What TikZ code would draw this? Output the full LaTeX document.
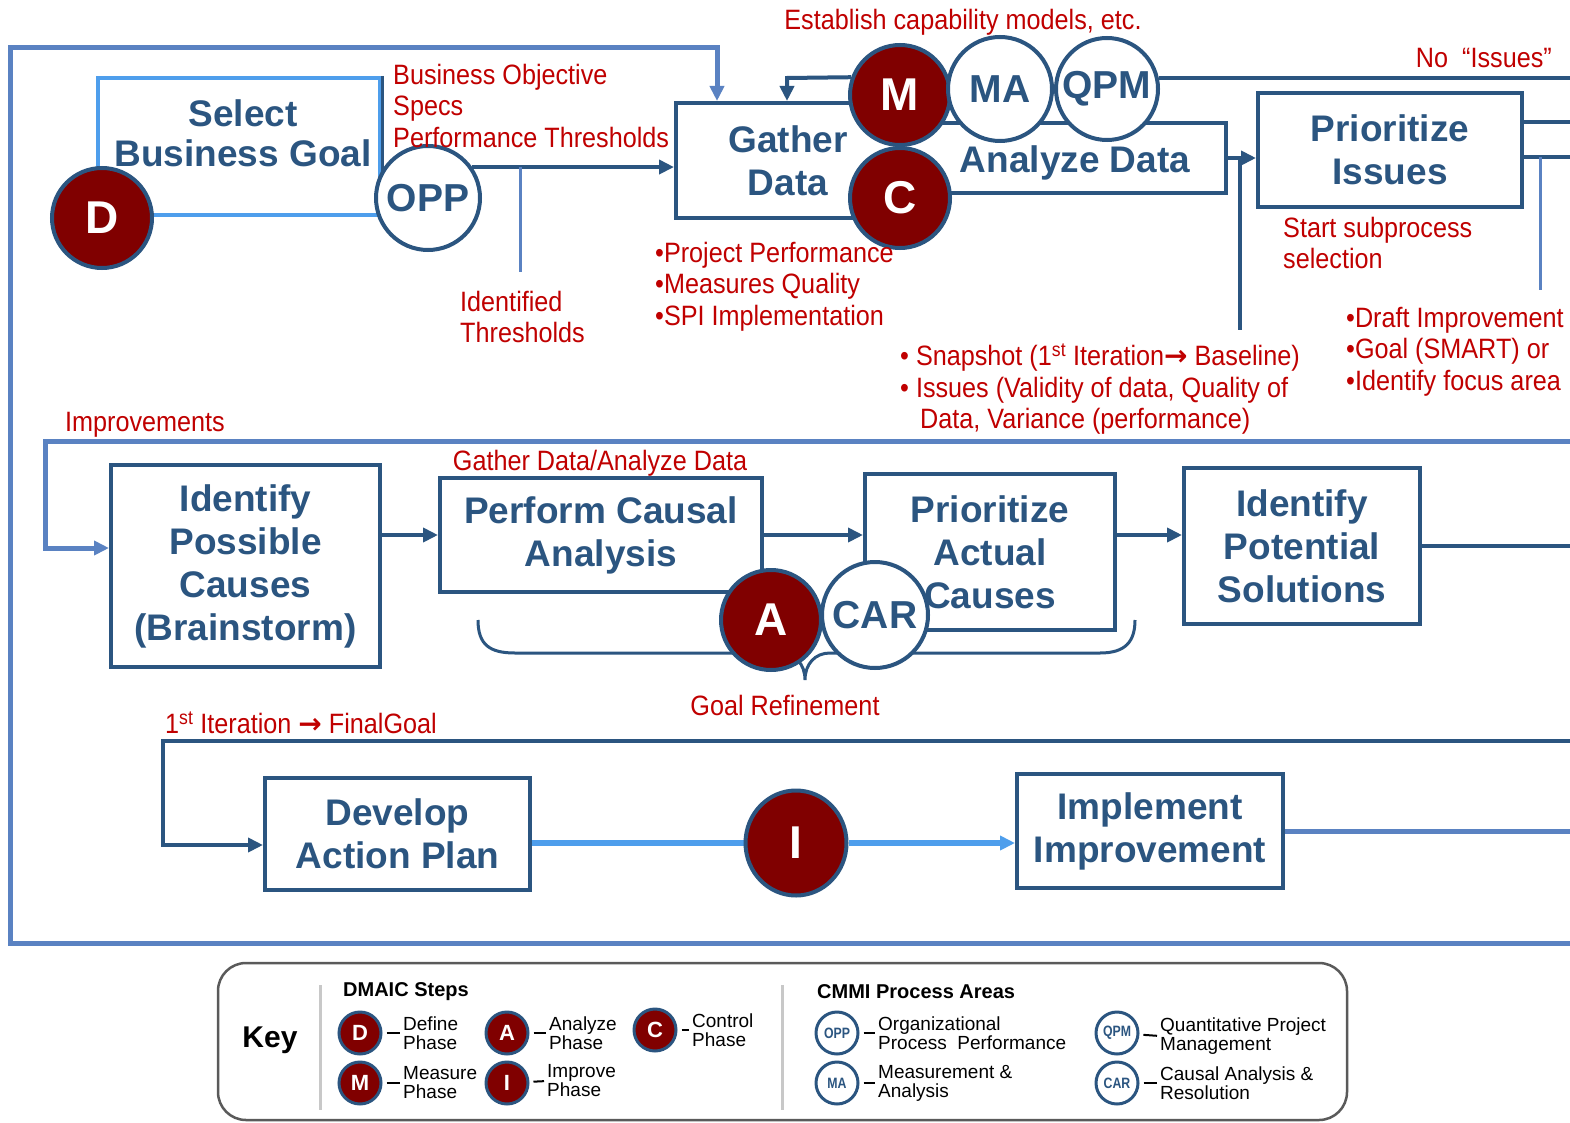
\documentclass[tikz,border=0pt]{standalone}
\usepackage{fontspec}
\setmainfont{Liberation Sans}
\newfontfamily\redfamily[FakeStretch=0.9]{Liberation Sans}
\newfontfamily\narrowfamily[FakeStretch=0.82]{Liberation Sans}
\newfontfamily\symfamily{DejaVu Sans}
\usetikzlibrary{arrows.meta,calc,backgrounds,shapes.geometric}

\definecolor{navy}{HTML}{2B5580}
\definecolor{midblue}{HTML}{5A82C2}
\definecolor{skyblue}{HTML}{4E9EEC}
\definecolor{lav}{HTML}{A8A8F6}
\definecolor{maroon}{HTML}{800000}
\definecolor{redtxt}{HTML}{C00000}
\definecolor{keygray}{HTML}{5A5A5A}
\definecolor{sepgray}{HTML}{C8C8C8}

\begin{document}
\begin{tikzpicture}[x=1pt,y=-1pt,
  procbox/.style={draw=navy,line width=4pt,fill=white,text=navy,align=center,inner sep=0pt,
    font=\bfseries\fontsize{37}{43}\selectfont},
  boxtext/.style={text=navy,align=center,inner sep=0pt,font=\bfseries\fontsize{37}{40}\selectfont},
  dmaic/.style={circle,draw=navy,line width=4pt,fill=maroon,text=white,inner sep=0pt,
    minimum size=100pt,font=\bfseries\fontsize{46}{46}\selectfont},
  cmmi/.style={circle,draw=navy,line width=4pt,fill=white,text=navy,inner sep=0pt,
    minimum size=104pt,font=\bfseries\fontsize{39}{39}\selectfont},
  redlabel/.style={text=redtxt,align=left,inner sep=0pt,font=\redfamily\fontsize{28}{31.5}\selectfont},
  link/.style={draw=navy,line width=4pt},
  outerline/.style={draw=midblue,line width=5pt},
  brightlink/.style={draw=skyblue,line width=6pt},
  arrowto/.style={-{Triangle[length=15pt,width=14pt]}},
  keyphase/.style={circle,draw=navy,line width=3pt,fill=maroon,text=white,inner sep=0pt,
    minimum size=42pt,font=\bfseries\fontsize{22}{22}\selectfont},
  keyarea/.style={circle,draw=navy,line width=3pt,fill=white,text=navy,inner sep=0pt,
    minimum size=42pt,font=\narrowfamily\bfseries\fontsize{15}{15}\selectfont},
  keytext/.style={anchor=west,align=left,inner sep=0pt,text=black,font=\fontsize{19}{19}\selectfont},
  keyhead/.style={anchor=west,inner sep=0pt,text=black,font=\bfseries\fontsize{20}{20}\selectfont},
  keydash/.style={draw=black,line width=2pt,shorten <=4pt,shorten >=3pt},
  sepline/.style={draw=sepgray,line width=3pt}
]
\useasboundingbox (0,0) rectangle (1570,1123);

% ---------- process boxes ----------
\node[procbox,draw=skyblue,minimum width=282pt,minimum height=137pt] (sbg) at (239,146.5) {};
\draw[link,line width=3pt] (sbg.north east) -- (sbg.south east);
\node[boxtext] (sbgtext) at (243,133) {Select\\Business Goal};
\node[procbox,minimum width=224pt,minimum height=115pt] (gather) at (788,160.5) {Gather\\Data};
\node[procbox,minimum width=326pt,minimum height=70pt] (analyze) at (1063,158) {};
\node[boxtext] (analyzetext) at (1075,163) {Analyze Data};
\node[procbox,minimum width=264pt,minimum height=114pt] (prio) at (1390,150) {Prioritize\\Issues};
\node[procbox,minimum width=269pt,minimum height=202pt] (ipc) at (245.5,566) {Identify\\Possible\\Causes\\(Brainstorm)};
\node[procbox,minimum width=322pt,minimum height=114pt] (pca) at (601,535) {Perform Causal\\Analysis};
\node[procbox,minimum width=250pt,minimum height=156pt] (pac) at (990,552) {Prioritize\\Actual\\Causes};
\node[procbox,minimum width=236pt,minimum height=156pt] (ips) at (1302,546) {Identify\\Potential\\Solutions};
\node[procbox,minimum width=265pt,minimum height=112pt] (dap) at (397.5,834) {Develop\\Action Plan};
\node[procbox,minimum width=266pt,minimum height=114pt] (impl) at (1150,831) {Implement\\Improvement};

% ---------- DMAIC phases and CMMI process areas ----------
\node[dmaic] (D) at (102,218) {D};
\node[cmmi] (opp) at (428,198) {OPP};
\node[dmaic] (M) at (900,95) {M};
\node[dmaic] (C) at (900,198) {C};
\node[cmmi] (MA) at (1000,89) {MA};
\node[cmmi,minimum size=102pt] (QPM) at (1107,89) {QPM};
\node[dmaic] (A) at (771,620) {A};
\node[cmmi,minimum size=106pt] (CAR) at (875,615) {CAR};
\node[dmaic,ellipse,minimum width=101pt,minimum height=105pt] (I) at (796,843) {I};

% ---------- annotations ----------
\node[redlabel,anchor=north west] (bos) at (393,64) {Business Objective\\Specs\\Performance Thresholds};
\node[redlabel,anchor=north west] (idth) at (460,291) {Identified\\Thresholds};
\node[redlabel] (estab) at (963,22) {Establish capability models, etc.};
\node[redlabel,anchor=east] (noiss) at (1552,58) {No \ “Issues”};
\node[redlabel,anchor=north west] (proj) at (655,242) {•Project Performance\\•Measures Quality\\•SPI Implementation};
\node[redlabel,anchor=north west] (snap) at (900,344)
  {• Snapshot (1\textsuperscript{st} Iteration{\symfamily\bfseries →} Baseline)\\• Issues (Validity of data, Quality of\\\hspace*{20pt}Data, Variance (performance)};
\node[redlabel,anchor=north west] (start) at (1283,217) {Start subprocess\\selection};
\node[redlabel,anchor=north west] (draft) at (1346,307) {•Draft Improvement\\•Goal (SMART) or\\•Identify focus area};
\node[redlabel,anchor=north west] (impr) at (65,412) {Improvements};
\node[redlabel] (gdad) at (600,463) {Gather Data/Analyze Data};
\node[redlabel] (goalref) at (785,705) {Goal Refinement};
\node[redlabel,anchor=north west] (iter) at (165,712) {1\textsuperscript{st} Iteration {\symfamily\bfseries →} FinalGoal};

% ---------- key ----------
\node[draw=keygray,line width=2.5pt,rounded corners=28pt,minimum width=1129pt,minimum height=157pt,inner sep=0pt] (keybox) at (782.5,1041.5) {};
\coordinate (sepA) at (320,985);
\coordinate (sepB) at (782,985);
\draw[sepline] (sepA) -- ++(0,125);
\draw[sepline] (sepB) -- ++(0,125);
\node[inner sep=0pt,text=black,font=\bfseries\fontsize{30}{30}\selectfont] (keytitle) at (270,1040) {Key};
\node[keyhead] (dmaichead) at (343,992) {DMAIC Steps};
\node[keyhead] (cmmihead) at (817,992) {CMMI Process Areas};

\node[keyphase] (kD) at (360,1033) {D};
\node[keytext] (kDt) at (403,1033) {Define\\Phase};
\node[keyphase] (kA) at (507,1033) {A};
\node[keytext] (kAt) at (549,1033) {Analyze\\Phase};
\node[keyphase] (kC) at (655,1030) {C};
\node[keytext] (kCt) at (692,1030) {Control\\Phase};
\node[keyphase] (kM) at (360,1083) {M};
\node[keytext] (kMt) at (403,1083) {Measure\\Phase};
\node[keyphase] (kI) at (507,1083) {I};
\node[keytext] (kIt) at (547,1081) {Improve\\Phase};
\node[keyarea] (kOPP) at (837,1033) {OPP};
\node[keytext] (kOPPt) at (878,1033) {Organizational\\Process \ Performance};
\node[keyarea] (kMA) at (837,1083) {MA};
\node[keytext] (kMAt) at (878,1083) {Measurement \&\\Analysis};
\node[keyarea] (kQPM) at (1117,1033) {QPM};
\node[keytext] (kQPMt) at (1160,1036) {Quantitative Project\\Management};
\node[keyarea] (kCAR) at (1117,1083) {CAR};
\node[keytext] (kCARt) at (1160,1083) {Causal Analysis \&\\Resolution};
\foreach \k in {kD,kA,kC,kM,kI,kOPP,kMA,kQPM,kCAR}
  \draw[keydash] (\k) -- (\k t.west -| \k t.west);

% ---------- connectors (behind the shapes) ----------
\begin{pgfonlayer}{background}
\fill[white] (0,0) rectangle (1570,1123);
\coordinate (redge) at (1570,0);
\coordinate (topleft) at (10,48);
\coordinate (botleft) at (10,943);
\coordinate (topturn) at (717,48);
\draw[outerline,arrowto] (botleft -| redge) -- (botleft) -- (topleft) -- (topturn) -- (topturn |- gather.north);

\draw[link,arrowto] (opp.35) -- (opp.35 -| gather.west);
\coordinate (iddrop) at (520,272);
\draw[link,draw=midblue,line width=3pt] (iddrop |- opp.35) -- (iddrop);

\coordinate (mloop) at (787,78);
\draw[link,arrowto] (M.160) -- (mloop) -- (mloop |- gather.north);
\draw[link] (QPM.12) -- (QPM.12 -| redge);

\draw[link,arrowto] (analyze.east) -- (analyze.east -| prio.west);
\coordinate (snapdrop) at (1240,330);
\draw[link] (snapdrop |- analyze.east) -- (snapdrop);

\coordinate (prhi) at ($(prio.east)+(0,-28)$);
\coordinate (prlo) at ($(prio.east)+(0,7)$);
\draw[link] (prhi) -- (prhi -| redge);
\draw[link] (prlo) -- (prlo -| redge);
\coordinate (drafttop) at (1540,290);
\draw[link,draw=midblue,line width=3pt] (drafttop |- prlo) -- (drafttop);

\coordinate (impcorner) at (45,441);
\coordinate (ipcin) at ($(ipc.west)+(0,-18)$);
\draw[outerline,arrowto] (impcorner -| redge) -- (impcorner) -- (impcorner |- ipcin) -- (ipcin);

\draw[link,arrowto] (ipc.east |- pca.west) -- (pca.west);
\draw[link,arrowto] (pca.east) -- (pca.east -| pac.west);
\coordinate (pacout) at ($(pac.east)+(0,-17)$);
\draw[link,arrowto] (pacout) -- (pacout -| ips.west);
\draw[link] (ips.east) -- (ips.east -| redge);

\coordinate (itcorner) at (163,741);
\coordinate (dapin) at ($(dap.west)+(0,11)$);
\draw[link,arrowto] (itcorner -| redge) -- (itcorner) -- (itcorner |- dapin) -- (dapin);

\draw[brightlink] (dap.east |- I) -- (I);
\draw[brightlink,arrowto] (I) -- (I -| impl.west);
\draw[outerline] (impl.east) -- (impl.east -| redge);

% brace grouping the analysis steps
\draw[link,line width=3pt] (478,620) .. controls (478,645) and (490,653) .. (515,653) -- (780,653)
  .. controls (795,653) and (805,664) .. (805,680)
  .. controls (805,664) and (815,653) .. (830,653) -- (1100,653)
  .. controls (1125,653) and (1135,642) .. (1135,620);
\end{pgfonlayer}
\end{tikzpicture}
\end{document}
